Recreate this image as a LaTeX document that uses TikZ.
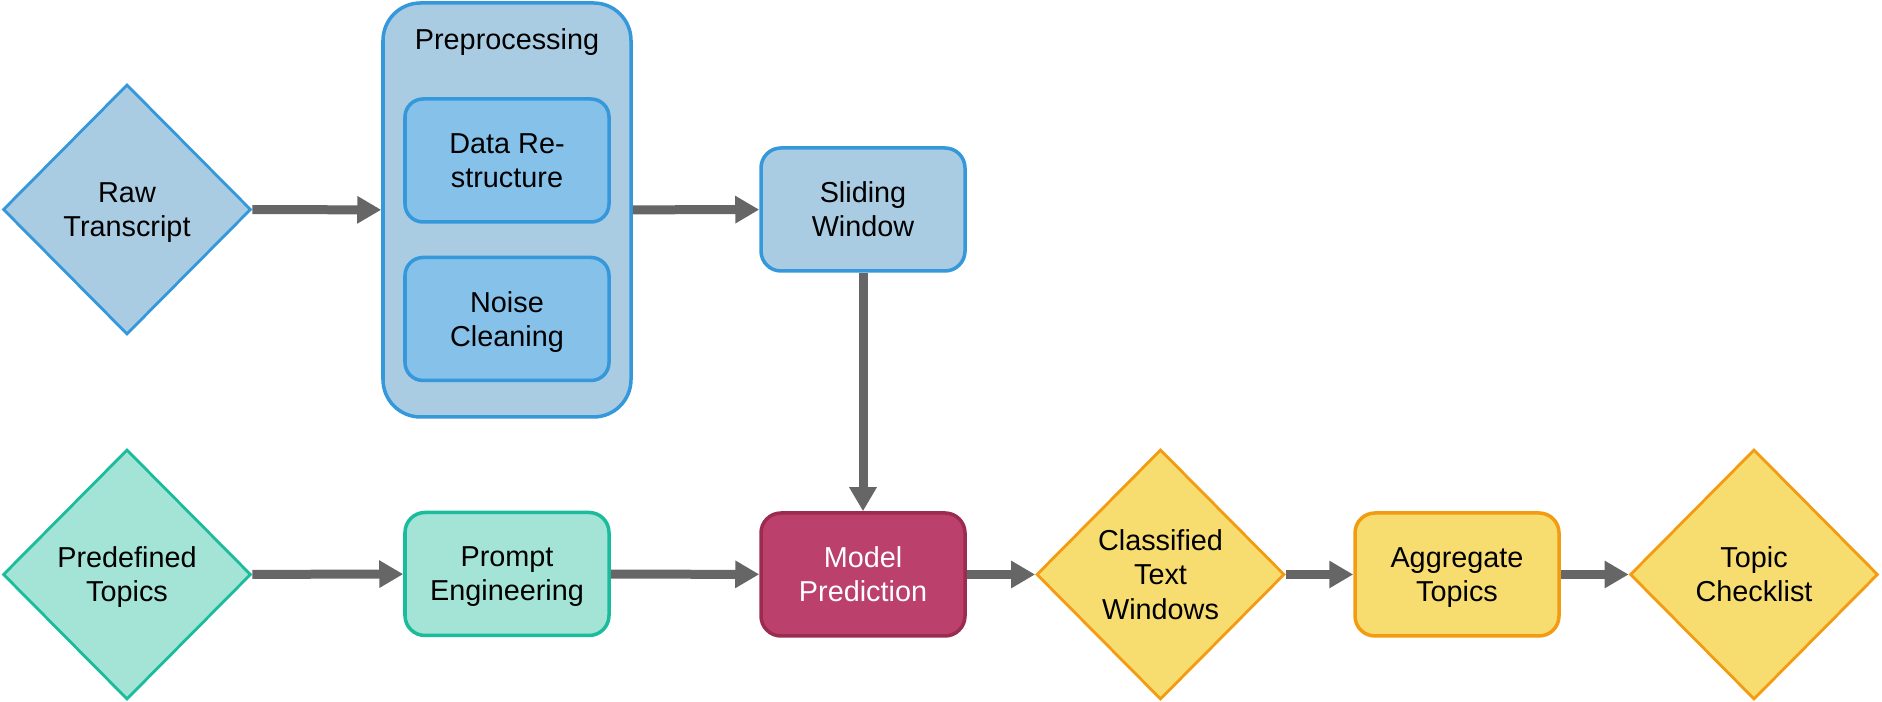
\documentclass[tikz,border=0pt]{standalone}
\usepackage{fontspec}
\setmainfont{Liberation Sans}
\usetikzlibrary{arrows.meta,shapes.geometric}
\definecolor{lblue}{HTML}{A9CCE3}
\definecolor{mblue}{HTML}{85C1E9}
\definecolor{bblue}{HTML}{3498DB}
\definecolor{lteal}{HTML}{A3E4D7}
\definecolor{dteal}{HTML}{1ABC9C}
\definecolor{mred}{HTML}{BC406C}
\definecolor{dred}{HTML}{9B2C50}
\definecolor{lyellow}{HTML}{F7DC6F}
\definecolor{dorange}{HTML}{F39C12}
\definecolor{arrowgray}{HTML}{666666}
\begin{document}
\begin{tikzpicture}[>={Triangle[length=0.48cm,width=0.52cm]},x=1.0cm,y=1.0cm,
		every node/.style={font=\fontsize{16.4}{19.4}\selectfont,align=center},
		box/.style={rectangle,rounded corners=0.4cm,line width=2pt,minimum width=4.08cm,minimum height=2.46cm,inner sep=0pt,text depth=0pt},
		dia/.style={diamond,line width=1.6pt,minimum width=4.96cm,minimum height=5.0cm,inner sep=0pt,text depth=0pt},
		flow/.style={->,line width=0.18cm,color=arrowgray}]
		\useasboundingbox (0,0) rectangle (37.64,14.04);
		\node[dia,fill=lblue,draw=bblue] (raw) at (2.54,9.85) {Raw\\Transcript};
		\node[box,fill=lblue,draw=bblue,rounded corners=0.75cm,minimum width=4.96cm,minimum height=8.28cm] (prep) at (10.14,9.84) {};
		\node (preptitle) at (10.14,13.2) {Preprocessing};
		\node[box,fill=mblue,draw=bblue,rounded corners=0.36cm] (restruct) at (10.14,10.83) {Data Re-\\structure};
		\node[box,fill=mblue,draw=bblue,rounded corners=0.36cm] (noise) at (10.14,7.66) {Noise\\Cleaning};
		\node[box,fill=lblue,draw=bblue] (window) at (17.26,9.85) {Sliding\\Window};
		\node[dia,fill=lteal,draw=dteal] (topics) at (2.54,2.55) {Predefined\\Topics};
		\node[box,fill=lteal,draw=dteal] (prompt) at (10.14,2.56) {Prompt\\Engineering};
		\node[box,fill=mred,draw=dred,text=white] (model) at (17.26,2.55) {Model\\Prediction};
		\node[dia,fill=lyellow,draw=dorange] (classified) at (23.21,2.55) {Classified\\Text\\Windows};
		\node[box,fill=lyellow,draw=dorange] (aggregate) at (29.14,2.55) {Aggregate\\Topics};
		\node[dia,fill=lyellow,draw=dorange] (checklist) at (35.08,2.55) {Topic\\Checklist};
		\draw[flow] (raw) -- (prep);
		\draw[flow] (prep) -- (window);
		\draw[flow] (window) -- (model);
		\draw[flow] (topics) -- (prompt);
		\draw[flow] (prompt) -- (model);
		\draw[flow] (model) -- (classified);
		\draw[flow] (classified) -- (aggregate);
		\draw[flow] (aggregate) -- (checklist);
		
	\end{tikzpicture}
\end{document}
